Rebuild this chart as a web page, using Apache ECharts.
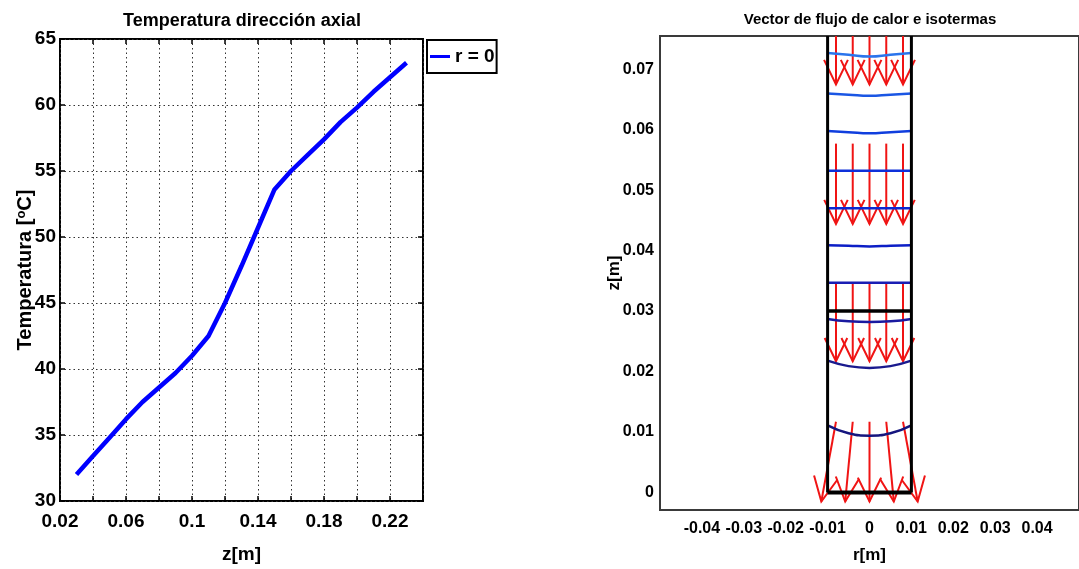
<!DOCTYPE html>
<html>
<head>
<meta charset="utf-8">
<script src="https://cdn.jsdelivr.net/npm/echarts@6/dist/echarts.min.js"></script>
<style>html,body{margin:0;padding:0;background:#fff;}#c{width:1079px;height:569px;}</style>
</head>
<body>
<div id="c"></div>
<script>
// ---------- Left chart data ----------
const tempZ = [0.03, 0.04, 0.05, 0.06, 0.07, 0.08, 0.09, 0.10, 0.11, 0.12, 0.13, 0.14, 0.15, 0.16, 0.17, 0.18, 0.19, 0.20, 0.21, 0.22, 0.23];
const tempT = [32.0, 33.4, 34.8, 36.2, 37.5, 38.6, 39.7, 41.0, 42.5, 45.0, 47.8, 50.7, 53.6, 55.0, 56.2, 57.4, 58.7, 59.8, 61.0, 62.1, 63.2];
const leftXLabelValues = [0.02, 0.06, 0.1, 0.14, 0.18, 0.22];
const leftYLabelValues = [30, 35, 40, 45, 50, 55, 60, 65];
const seriesName = 'r = 0';

// ---------- Right chart data ----------
const rTickValues = [-0.04, -0.03, -0.02, -0.01, 0, 0.01, 0.02, 0.03, 0.04];
const zTickValues = [0, 0.01, 0.02, 0.03, 0.04, 0.05, 0.06, 0.07];
const wallR = [-0.01, 0.01];
const wallZ = [0, 0.0755];
const blackLevelZ = [0, 0.03];
const isoR = [-0.01, -0.005, 0, 0.005, 0.01];
const iso1 = [0.0111, 0.0098, 0.0094, 0.0098, 0.0111];
const iso2 = [0.0218, 0.0209, 0.0206, 0.0209, 0.0218];
const iso3 = [0.0287, 0.0283, 0.0282, 0.0283, 0.0287];
const iso4 = [0.0347, 0.0347, 0.0347, 0.0347, 0.0347];
const iso5 = [0.0409, 0.0408, 0.0407, 0.0408, 0.0409];
const iso6 = [0.0470, 0.0470, 0.0470, 0.0470, 0.0470];
const iso7 = [0.0532, 0.0532, 0.0532, 0.0532, 0.0532];
const iso8 = [0.0598, 0.0596, 0.0594, 0.0596, 0.0598];
const iso9 = [0.0660, 0.0658, 0.0656, 0.0658, 0.0660];
const iso10 = [0.0727, 0.0724, 0.0721, 0.0724, 0.0727];
const isoColors = ['#15157e', '#1a1a8e', '#1a1aa0', '#1a1eb4', '#0c1ec6', '#0c26d2', '#0e30da', '#103ede', '#1a56e4', '#2a74ec'];
const arrowTailR = [-0.008, -0.004, 0, 0.004, 0.008];
const arrowTailZ = [0.081, 0.0577, 0.0345, 0.0117];
const arrowTipZ = [0.0675, 0.0444, 0.0217, -0.0015];
const arrowTipRBottom = [-0.0115, -0.0058, 0, 0.0058, 0.0115];

const FONT = '"Liberation Sans Narrow", "Liberation Sans", Arial, sans-serif';

// build arrows
const arrows = [];
for (let g = 0; g < arrowTailZ.length; g++) {
  for (let i = 0; i < arrowTailR.length; i++) {
    const tipR = (g === arrowTailZ.length - 1) ? arrowTipRBottom[i] : arrowTailR[i];
    arrows.push([arrowTailR[i], arrowTailZ[g], tipR, arrowTipZ[g]]);
  }
}
const isoList = [iso1, iso2, iso3, iso4, iso5, iso6, iso7, iso8, iso9, iso10];

const chart = echarts.init(document.getElementById('c'), null, {renderer: 'canvas'});

const series = [];
series.push({
  name: seriesName, type: 'line', xAxisIndex: 0, yAxisIndex: 0,
  data: tempZ.map((z, i) => [z, tempT[i]]),
  showSymbol: false, symbol: 'none',
  lineStyle: {color: '#0000ff', width: 4.5}, itemStyle: {color: '#0000ff'},
  animation: false
});
// arrows
series.push({
  type: 'custom', xAxisIndex: 2, yAxisIndex: 2, clip: true,
  data: arrows, encode: {x: [0, 2], y: [1, 3]},
  renderItem: function (params, api) {
    const p0 = api.coord([api.value(0), api.value(1)]);
    const p1 = api.coord([api.value(2), api.value(3)]);
    const dx = p1[0] - p0[0], dy = p1[1] - p0[1];
    const L = Math.hypot(dx, dy);
    const ux = dx / L, uy = dy / L;
    const hl = 0.3 * L, hw = 0.146 * L;
    const bx = p1[0] - ux * hl, by = p1[1] - uy * hl;
    const a1 = [bx - uy * hw, by + ux * hw];
    const a2 = [bx + uy * hw, by - ux * hw];
    const cs = params.coordSys;
    const st = {stroke: '#f01414', lineWidth: 2, fill: null};
    return {
      type: 'group',
      clipPath: {type: 'rect', shape: {x: cs.x, y: cs.y, width: cs.width, height: cs.height}},
      children: [
        {type: 'polyline', shape: {points: [p0, p1]}, style: st},
        {type: 'polyline', shape: {points: [a1, p1, a2]}, style: st}
      ]
    };
  },
  animation: false
});
// isotherms
isoList.forEach((iso, k) => {
  series.push({
    type: 'line', xAxisIndex: 2, yAxisIndex: 2, smooth: true, symbol: 'none',
    data: isoR.map((r, i) => [r, iso[i]]),
    lineStyle: {color: isoColors[k], width: 2.5}, animation: false, silent: true
  });
});
// walls
wallR.forEach(r => {
  series.push({
    type: 'line', xAxisIndex: 2, yAxisIndex: 2, symbol: 'none',
    data: wallZ.map(z => [r, z]),
    lineStyle: {color: '#000', width: 3}, animation: false, silent: true
  });
});
blackLevelZ.forEach((z, k) => {
  series.push({
    type: 'line', xAxisIndex: 2, yAxisIndex: 2, symbol: 'none',
    data: wallR.map(r => [r, z]),
    lineStyle: {color: '#000', width: k === 0 ? 4 : 3.5}, animation: false, silent: true
  });
});

const tickLabelStyle = {fontFamily: FONT, fontWeight: 'bold', color: '#000'};

const option = {
  animation: false,
  backgroundColor: '#fff',
  title: [
    {text: 'Temperatura dirección axial', left: 242, top: 12, textAlign: 'center', padding: 0,
     textStyle: {fontFamily: FONT, fontWeight: 'bold', fontSize: 18, color: '#000'}},
    {text: 'Vector de flujo de calor e isotermas', left: 870, top: 12, textAlign: 'center', padding: 0,
     textStyle: {fontFamily: FONT, fontWeight: 'bold', fontSize: 15, color: '#000'}}
  ],
  legend: {
    data: [seriesName], left: 427, top: 40, orient: 'vertical',
    borderColor: '#000', borderWidth: 2, borderRadius: 0, padding: [7, 2, 7, 3],
    icon: 'rect', itemWidth: 20, itemHeight: 3, itemGap: 0,
    textStyle: {fontFamily: FONT, fontWeight: 'bold', fontSize: 19, color: '#000'}
  },
  grid: [
    {left: 60, right: 656, top: 39, bottom: 65, show: true, borderColor: '#000', borderWidth: 2, backgroundColor: '#fff'},
    {left: 660, right: -3, top: 36, bottom: 59, show: true, borderColor: '#3a3a3a', borderWidth: 2, backgroundColor: '#fff'}
  ],
  xAxis: [
    {type: 'value', gridIndex: 0, min: 0.02, max: 0.24, interval: 0.02,
     name: 'z[m]', nameLocation: 'middle', nameGap: 44, nameMoveOverlap: false,
     nameTextStyle: {fontFamily: FONT, fontWeight: 'bold', fontSize: 19, color: '#000'},
     axisLine: {show: false},
     axisTick: {show: true, inside: true, length: 5, lineStyle: {color: '#000', width: 1.5}},
     splitLine: {show: true, lineStyle: {type: [1.5, 3], color: '#333', width: 1}},
     axisLabel: Object.assign({fontSize: 19, margin: 11, customValues: leftXLabelValues}, tickLabelStyle)},
    {type: 'value', gridIndex: 0, position: 'top', min: 0.02, max: 0.24, interval: 0.02,
     axisLine: {show: false}, axisLabel: {show: false}, splitLine: {show: false},
     axisTick: {show: true, inside: true, length: 5, lineStyle: {color: '#000', width: 1.5}}},
    {type: 'value', gridIndex: 1, min: -0.05, max: 0.05,
     name: 'r[m]', nameLocation: 'middle', nameGap: 37, nameMoveOverlap: false,
     nameTextStyle: {fontFamily: FONT, fontWeight: 'bold', fontSize: 17, color: '#000'},
     axisLine: {show: false}, axisTick: {show: false}, splitLine: {show: false},
     axisLabel: Object.assign({fontSize: 16, margin: 11, customValues: rTickValues}, tickLabelStyle)}
  ],
  yAxis: [
    {type: 'value', gridIndex: 0, min: 30, max: 65, interval: 5,
     name: 'Temperatura [{sup|o}C]', nameLocation: 'middle', nameGap: 25, nameMoveOverlap: false,
     nameTextStyle: {fontFamily: FONT, fontWeight: 'bold', fontSize: 20, color: '#000',
       rich: {sup: {fontFamily: FONT, fontWeight: 'bold', fontSize: 13, color: '#000', verticalAlign: 'top', lineHeight: 20}}},
     axisLine: {show: false},
     axisTick: {show: true, inside: true, length: 5, lineStyle: {color: '#000', width: 1.5}},
     splitLine: {show: true, lineStyle: {type: [1.5, 3], color: '#333', width: 1}},
     axisLabel: Object.assign({fontSize: 19, margin: 4, customValues: leftYLabelValues}, tickLabelStyle)},
    {type: 'value', gridIndex: 0, position: 'right', min: 30, max: 65, interval: 5,
     axisLine: {show: false}, axisLabel: {show: false}, splitLine: {show: false},
     axisTick: {show: true, inside: true, length: 5, lineStyle: {color: '#000', width: 1.5}}},
    {type: 'value', gridIndex: 1, min: -0.0029, max: 0.0755,
     name: 'z[m]', nameLocation: 'middle', nameGap: 37, nameMoveOverlap: false,
     nameTextStyle: {fontFamily: FONT, fontWeight: 'bold', fontSize: 17, color: '#000'},
     axisLine: {show: false}, axisTick: {show: false}, splitLine: {show: false},
     axisLabel: Object.assign({fontSize: 16, margin: 6, customValues: zTickValues}, tickLabelStyle)}
  ],
  series: series
};
chart.setOption(option);
</script>
</body>
</html>
